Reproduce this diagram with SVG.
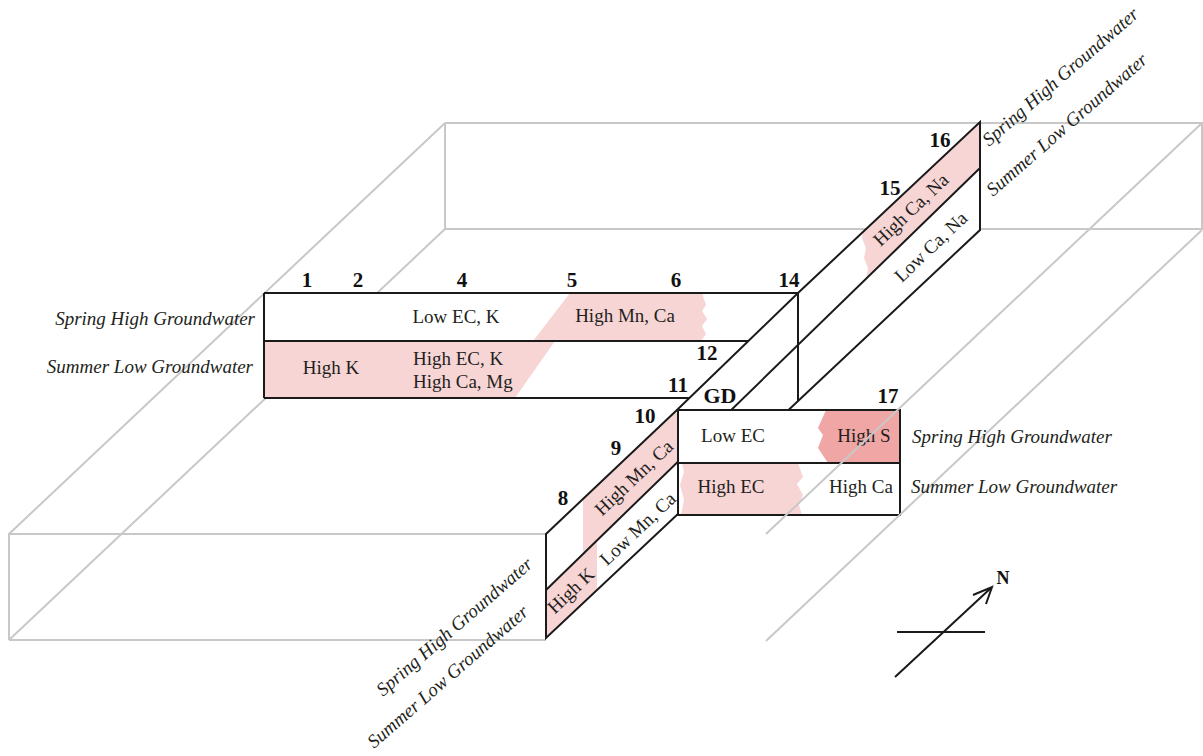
<svg xmlns="http://www.w3.org/2000/svg" width="1203" height="756" viewBox="0 0 1203 756">
<style>
.g{stroke:#c8c8c8;stroke-width:2;fill:none}
.k{stroke:#1a1a1a;stroke-width:2;fill:none;stroke-linejoin:miter}
.w{fill:#ffffff}
.p{fill:#f8d5d5}
.pd{fill:#f1a6a6}
text{font-family:'Liberation Serif','Tinos','Times New Roman','DejaVu Serif',serif;fill:#231f20}
.t{font-size:19px}
.i{font-style:italic;font-size:19px}
.n{font-weight:bold;font-size:21px;fill:#111111;text-anchor:middle}
.c{text-anchor:middle}
.e{text-anchor:end}
</style>
<rect width="1203" height="756" fill="#ffffff"/>

<g id="slab" class="g">
<path d="M445,123 H1202 V230 M445,123 V229 H1202"/>
<path d="M445,123 L9,534 V640 M445,229 L9,640"/>
<path d="M9,534 H546 M9,640 H546"/>
</g>

<g id="ew-section">
<rect class="w" x="264" y="293" width="534" height="105"/>
<polygon class="p" points="264,341 555,341 515,398 264,398"/>
<polygon class="p" points="570,293 702,293 706,305 702,311 707,319 702,326 706,334 701,341 533,341"/>
<path class="k" d="M264,293 H798 M264,341 H748 M264,398 H689 M264,293 V398"/>
<text class="t c" x="456" y="323">Low EC, K</text>
<text class="t c" x="625" y="322">High Mn, Ca</text>
<text class="t c" x="331" y="374">High K</text>
<text class="t" x="413" y="365">High EC, K</text>
<text class="t" x="413" y="388">High Ca, Mg</text>
</g>

<g id="ns-section">
<polygon class="w" points="546,534 678,409 798,293 980,122 980,230 546,638"/>
<polygon class="p" points="678,409 583,499 583,554 546,590 546,638 597,590 597,540 678,462"/>
<polygon class="p" points="863,232 980,122 980,168 866,279 868,268 864,258 866,248 862,238"/>
<path class="k" d="M546,534 L678,409 L798,293 L980,122 V230 L546,638 Z M546,590 L980,168 M798,293 V401"/>
<text class="t c" transform="rotate(-43.5 634 478)" x="634" y="484">High Mn, Ca</text>
<text class="t c" transform="rotate(-43.5 638 529)" x="638" y="535">Low Mn, Ca</text>
<text class="t c" transform="rotate(-43.5 571 591)" x="571" y="597">High K</text>
<text class="t c" transform="rotate(-43.5 911 210)" x="911" y="216">High Ca, Na</text>
<text class="t c" transform="rotate(-43.5 931 247)" x="931" y="253">Low Ca, Na</text>
</g>

<g id="gd-box">
<rect class="w" x="678" y="410" width="222" height="105"/>
<polygon class="pd" points="826,410 900,410 900,463 828,463 818,448 823,435 818,428"/>
<polygon class="p" points="682,463 798,463 803,477 797,484 803,495 799,505 802,515 681,515 684,500 680,485 684,472"/>
<path class="k" d="M678,410 H900 V515 H678 Z M678,463 H900"/>
<text class="t c" x="733" y="442">Low EC</text>
<text class="t c" x="864" y="442">High S</text>
<text class="t c" x="731" y="493">High EC</text>
<text class="t c" x="861" y="493">High Ca</text>
</g>

<g id="slab-front-right" class="g">
<path d="M1202,123 L766,534 M1202,230 L766,641"/>
</g>

<g id="numbers">
<text class="n" x="307" y="287">1</text>
<text class="n" x="358" y="287">2</text>
<text class="n" x="462" y="287">4</text>
<text class="n" x="572" y="287">5</text>
<text class="n" x="676" y="287">6</text>
<text class="n" x="789" y="287">14</text>
<text class="n" x="707" y="360">12</text>
<text class="n" x="678" y="392">11</text>
<text class="n" x="720" y="403" style="font-size:22px">GD</text>
<text class="n" x="645" y="423">10</text>
<text class="n" x="616" y="455">9</text>
<text class="n" x="563" y="505">8</text>
<text class="n" x="888" y="403">17</text>
<text class="n" x="940" y="147">16</text>
<text class="n" x="890" y="195">15</text>
</g>

<g id="season-labels">
<text class="i e" x="255" y="325">Spring High Groundwater</text>
<text class="i e" x="253" y="373">Summer Low Groundwater</text>
<text class="i" x="912" y="443">Spring High Groundwater</text>
<text class="i" x="911" y="493">Summer Low Groundwater</text>
<text class="i" transform="rotate(-41 989 147)" x="989" y="147">Spring High Groundwater</text>
<text class="i" transform="rotate(-41 993 197)" x="993" y="197">Summer Low Groundwater</text>
<text class="i" transform="rotate(-41 383 697)" x="383" y="697">Spring High Groundwater</text>
<text class="i" transform="rotate(-41 374 749)" x="374" y="749">Summer Low Groundwater</text>
</g>

<g id="north-arrow">
<path class="k" d="M895,677 L992,587 M973,595 L992,587 L986,604 M897,632 H985"/>
<text class="n" x="1003" y="584" style="font-size:18px">N</text>
</g>
</svg>
